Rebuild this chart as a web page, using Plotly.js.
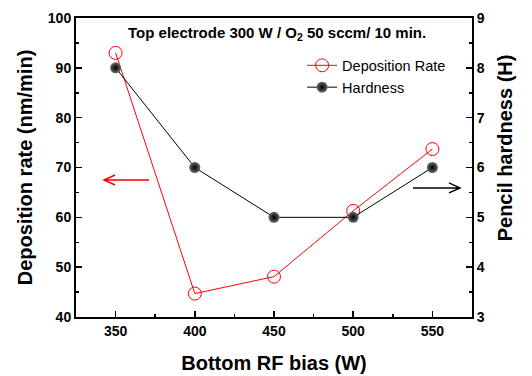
<!DOCTYPE html>
<html><head><meta charset="utf-8">
<script src="https://cdn.plot.ly/plotly-3.0.1.min.js"></script>
<style>body{margin:0}#c{width:532px;height:376px}</style>
</head><body><div id="c"></div>
<script>
const bias = [350, 400, 450, 500, 550];
const depositionRate = [93.0, 44.7, 48.1, 61.3, 73.7];
const hardness = [8, 6, 5, 5, 6];
const xTicks = [350, 400, 450, 500, 550];
const yTicks = [40, 50, 60, 70, 80, 90, 100];
const y2Ticks = [3, 4, 5, 6, 7, 8, 9];

const F = 'Liberation Sans, Arial, sans-serif';
const traces = [
  {x: bias, y: depositionRate, name: 'Deposition Rate', mode: 'lines+markers', yaxis: 'y',
   line: {color: '#ff0000', width: 1},
   marker: {symbol: 'circle-open', size: 13, color: '#ff0000', line: {width: 1, color: '#ff0000'}}},
  {x: bias, y: hardness, name: 'Hardness', mode: 'lines+markers', yaxis: 'y2',
   line: {color: '#000000', width: 1},
   marker: {symbol: 'circle', size: 11, color: '#6a6a6a', gradient: {type: 'radial', color: '#000000'}, line: {width: 0}}}
];
const axBase = {showgrid: false, zeroline: false, showline: true, linecolor: '#000', linewidth: 2,
  ticks: 'inside', ticklen: 6, tickwidth: 1.5, tickcolor: '#000',
  tickfont: {family: F, size: 14, color: '#000', weight: 'bold'}};
const minorT = (d) => ({ticks: 'inside', ticklen: 3, tickwidth: 1.5, tickcolor: '#000', dtick: d});
const layout = {
  width: 532, height: 376, margin: {l: 76, r: 60, t: 18, b: 59},
  paper_bgcolor: '#fff', plot_bgcolor: '#fff', showlegend: true,
  legend: {x: 0.571, y: 0.895, xanchor: 'left', yanchor: 'top', bgcolor: 'rgba(0,0,0,0)',
    font: {family: F, size: 14.5, color: '#000'}, itemwidth: 30},
  xaxis: Object.assign({}, axBase, {range: [325, 575], tickvals: xTicks, mirror: true,
    minor: minorT(25),
    title: {text: 'Bottom RF bias (W)', font: {family: F, size: 20, color: '#000', weight: 'bold'}, standoff: 18}}),
  yaxis: Object.assign({}, axBase, {range: [40, 100], tickvals: yTicks,
    minor: minorT(5),
    title: {text: 'Deposition rate (nm/min)', font: {family: F, size: 20, color: '#000', weight: 'bold'}, standoff: 10}}),
  yaxis2: Object.assign({}, axBase, {range: [3, 9], tickvals: y2Ticks, overlaying: 'y', side: 'right',
    minor: minorT(0.5)}),
  annotations: [
    {xref: 'paper', yref: 'paper', x: 0.507, y: 0.985, xanchor: 'center', yanchor: 'top', showarrow: false,
     text: 'Top electrode 300 W / O<sub>2</sub> 50 sccm/ 10 min.', font: {family: F, size: 15, color: '#000', weight: 'bold'}},
    {xref: 'paper', yref: 'paper', x: 1.084, y: 0.565, xanchor: 'center', yanchor: 'middle', showarrow: false,
     textangle: -90, text: 'Pencil hardness (H)', font: {family: F, size: 20, color: '#000', weight: 'bold'}}
  ],
  shapes: [
    {type: 'path', xref: 'x', yref: 'y', xsizemode: 'pixel', ysizemode: 'pixel', xanchor: 342.7, yanchor: 67.5,
     path: 'M0,0 L45,0 M11,5 L0,0 L11,-5', line: {color: '#ff0000', width: 1.5}},
    {type: 'path', xref: 'x', yref: 'y', xsizemode: 'pixel', ysizemode: 'pixel', xanchor: 567.4, yanchor: 65.9,
     path: 'M0,0 L-47,0 M-11,5 L0,0 L-11,-5', line: {color: '#000000', width: 1.5}}
  ]
};
Plotly.newPlot('c', traces, layout, {displayModeBar: false, staticPlot: true});
</script></body></html>
